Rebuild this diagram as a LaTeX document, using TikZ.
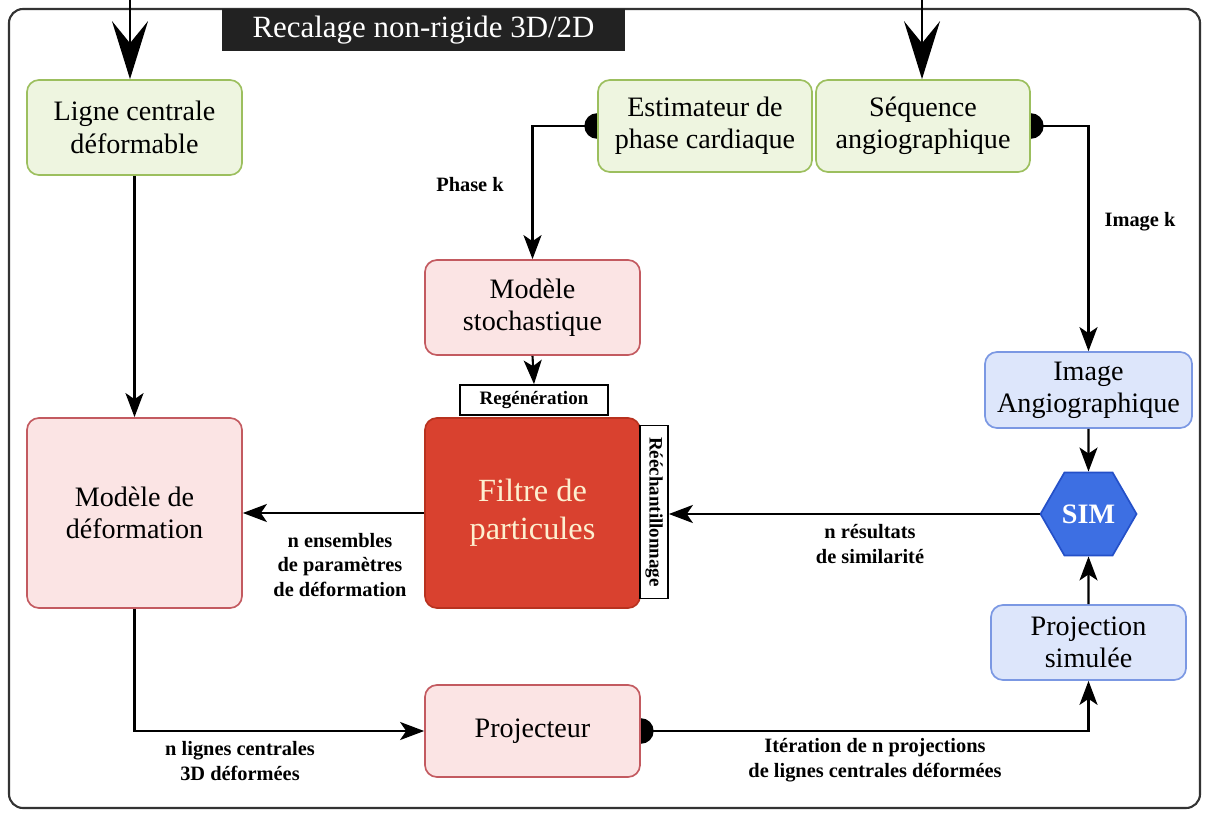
\documentclass[tikz,border=0pt]{standalone}
\usepackage{fontspec}
\setmainfont{Liberation Serif}
\usetikzlibrary{arrows.meta,shapes.geometric,backgrounds}
\definecolor{greenFill}{HTML}{EEF5E0}
\definecolor{greenLine}{HTML}{9CBF5E}
\definecolor{pinkFill}{HTML}{FBE4E4}
\definecolor{pinkLine}{HTML}{C35A60}
\definecolor{redFill}{HTML}{D9412F}
\definecolor{redLine}{HTML}{B8321F}
\definecolor{redText}{HTML}{FDF0D0}
\definecolor{blueFill}{HTML}{DDE6FB}
\definecolor{blueLine}{HTML}{7B98E3}
\definecolor{simFill}{HTML}{3D6FE3}
\definecolor{simLine}{HTML}{2450C8}
\definecolor{frameLine}{HTML}{333333}
\definecolor{titleFill}{HTML}{222222}
\tikzset{
  box/.style={rectangle, rounded corners=0.3cm, line width=1.2pt, align=center,
    inner sep=0pt, font=\fontsize{20}{23}\selectfont},
  greenBox/.style={box, draw=greenLine, fill=greenFill},
  pinkBox/.style={box, draw=pinkLine, fill=pinkFill},
  redBox/.style={box, draw=redLine, fill=redFill, text=redText,
    font=\fontsize{23}{27}\selectfont},
  blueBox/.style={box, draw=blueLine, fill=blueFill},
  simHex/.style={regular polygon, regular polygon sides=6, minimum size=2.4cm,
    inner sep=0pt, draw=simLine, line width=1.2pt, fill=simFill, text=white,
    font=\fontsize{20}{23}\selectfont\bfseries},
  tagBox/.style={rectangle, draw=black, fill=white, line width=1.2pt, inner sep=0pt,
    font=\fontsize{13.5}{16}\selectfont\bfseries},
  titleBox/.style={rectangle, fill=titleFill, text=white, inner sep=0pt,
    minimum width=10.075cm, minimum height=1.05cm, font=\fontsize{22}{26}\selectfont},
  lbl/.style={align=center, font=\fontsize{14.5}{17.5}\selectfont\bfseries},
  flow/.style={draw=black, line width=1.5pt,
    -{Stealth[length=0.6cm, width=0.45cm, inset=0.15cm]}},
  bigFlow/.style={draw=black, line width=1.5pt,
    -{Stealth[length=1.45cm, width=0.9cm, inset=0.55cm]}},
  plug/.style={fill=black}
}
\begin{document}
\begin{tikzpicture}[x=0.025cm, y=-0.025cm]
  \useasboundingbox (0,0) rectangle (1208,814);
  \draw[frameLine, line width=1.5pt, rounded corners=0.35cm] (9,9) rectangle (1200,808);

  \node[titleBox] (title) at (423.5,30) {Recalage non-rigide 3D/2D};

  % entrees
  \node[greenBox, minimum width=5.375cm, minimum height=2.375cm] (ligne) at (134.5,127.5)
    {Ligne centrale\\déformable};
  \node[greenBox, minimum width=5.35cm, minimum height=2.3cm] (estim) at (705,126)
    {Estimateur de\\phase cardiaque};
  \node[greenBox, minimum width=5.35cm, minimum height=2.3cm] (seq) at (923,126)
    {Séquence\\angiographique};

  % filtre
  \node[pinkBox, minimum width=5.375cm, minimum height=2.375cm] (stoch) at (532.5,307.5)
    {Modèle\\stochastique};
  \node[tagBox, minimum width=3.7cm, minimum height=0.75cm] (regen) at (534,400) {Regénération};
  \node[redBox, minimum width=5.375cm, minimum height=4.75cm] (filtre) at (532.5,513)
    {Filtre de\\particules};
  \node[tagBox, rotate=-90, minimum width=4.325cm, minimum height=0.7cm] (reech) at (654,512)
    {Rééchantillonnage};
  \node[pinkBox, minimum width=5.375cm, minimum height=4.75cm] (mdef) at (134.5,513)
    {Modèle de\\déformation};
  \node[pinkBox, minimum width=5.375cm, minimum height=2.3cm] (proj) at (532.5,731)
    {Projecteur};

  % similarite
  \node[blueBox, minimum width=5.175cm, minimum height=1.9cm] (imgA) at (1088.5,390)
    {Image\\Angiographique};
  \node[simHex] (sim) at (1088.5,514) {SIM};
  \node[blueBox, minimum width=4.875cm, minimum height=1.875cm] (projS) at (1088.5,642.5)
    {Projection\\simulée};

  \begin{scope}[on background layer]
    \fill[plug] (estim.west) circle (0.32cm);
    \fill[plug] (seq.east) circle (0.32cm);
    \fill[plug] (proj.east) circle (0.32cm);
  \end{scope}

  \coordinate (inL) at (130,0);
  \coordinate (inS) at (922,0);
  \draw[bigFlow] (inL) -- (inL |- ligne.north);
  \draw[bigFlow] (inS) -- (inS |- seq.north);

  \draw[flow] (estim.west) -| (stoch.north);
  \draw[flow] (seq.east) -| (imgA.north);
  \draw[flow] (ligne.south) -- (mdef.north);
  \draw[flow] (stoch.south) -- (regen.north);
  \draw[flow] (filtre.west) -- (mdef.east);
  \draw[flow] (imgA.south) -- (sim.north);
  \draw[flow] (sim.west) -- (sim.west -| reech.north);
  \draw[flow] (projS.north) -- (sim.south);
  \draw[flow] (mdef.south) |- (proj.west);
  \draw[flow] (proj.east) -| (projS.south);

  \node[lbl] (lPhase) at (470,185) {Phase k};
  \node[lbl] (lImage) at (1140,222) {Image k};
  \node[lbl] (lParam) at (340,565) {n ensembles\\de paramètres\\de déformation};
  \node[lbl] (lSim) at (870,544) {n résultats\\de similarité};
  \node[lbl] (lLignes) at (240,761) {n lignes centrales\\3D déformées};
  \node[lbl] (lIter) at (875,760) {Itération de n projections\\de lignes centrales déformées};
\end{tikzpicture}
\end{document}
